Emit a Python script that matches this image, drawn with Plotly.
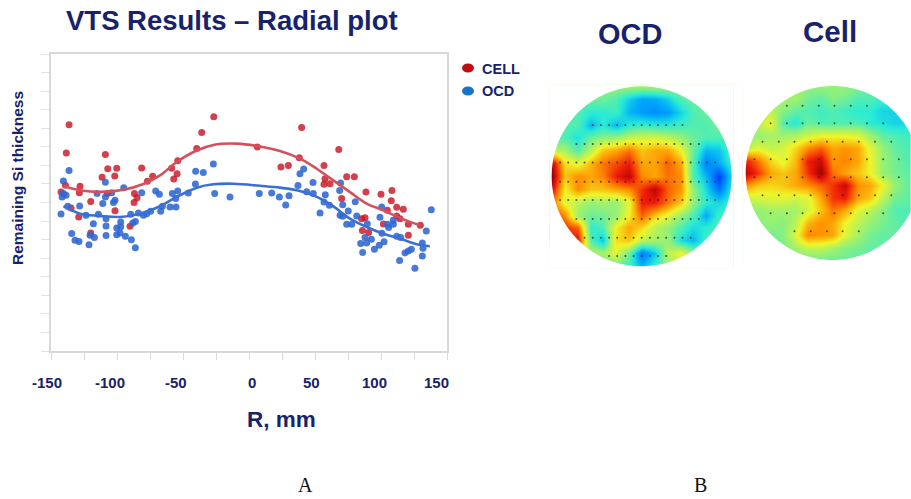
import numpy as np
import plotly.graph_objects as go

NAVY = "#18226a"
# Radial plot: R (mm) and remaining Si thickness (axis divisions)
cell_r = [-136.3,-138.4,-142.4,-139.1,-134.8,-129,-128,-128.5,-119.9,-119.9,-111.3,-108.8,-107,-100.2,-101.7,-107.3,-101.5,-90.1,-86.8,-84.8,-87.1,-81.3,-77,-73,-58.6,-54.5,-57,-54,-39.6,-35.8,-26.7,6.3,39.9,38.1,24.2,29.8,68,56.8,57.6,56.8,61.4,74,79.8,70.2,88.6,100,108.3,107.8,111.9,116.9,104.8,111.9,114.4,120.7,129.8,120.7,85.3,87.9,85.9,90.6,101.8]
cell_v = [12.19,10.66,8.57,8.93,7.71,7.22,8.87,8.53,8.05,6.36,9.36,10.59,9.82,9.84,9.43,8.48,7.55,6.72,8.48,8.26,8.0,9.86,9.14,9.41,9.84,9.55,9.27,10.25,10.91,11.77,12.62,10.99,12.04,10.41,9.91,10.0,10.86,10.0,9.28,8.98,9.01,9.39,9.39,8.21,8.56,8.44,8.64,8.1,7.74,7.63,7.58,7.27,7.13,6.83,6.77,6.23,7.13,7.18,6.49,6.38,6.84]
ocd_r = [-136.3,-140.6,-141.6,-138.6,-140.6,-142.4,-137.3,-134.3,-131.8,-128.8,-128.3,-123.5,-117.9,-121.2,-120.4,-117.1,-115.1,-114.1,-110.8,-108.8,-108.8,-104,-108.3,-108.3,-108.3,-101.5,-102.7,-94.9,-100.2,-100.2,-97.2,-97.2,-97.7,-93.7,-89.1,-86.1,-89.6,-88.1,-86.1,-83.8,-80,-81.3,-77.5,-74.5,-70.7,-67.9,-66.9,-65.6,-59.8,-55.3,-58.1,-55.5,-54,-46,-40.4,-40.6,-34.6,-27,-26,-14.4,7.8,17.2,23,27.8,30.3,37.1,38.6,41.4,43.7,48.5,48.7,53.8,57.8,56.8,60.9,69.4,68.7,71,69,75.2,71,74,77.8,80.5,81.6,89.6,99.2,100.5,87.9,92.7,84.6,89.1,86.1,95,98.7,102.3,100.7,104.8,105.8,109.3,109.3,111.9,114.9,114.1,118.2,120.7,123,125.7,131.3,131.3,131.8,134.3,138.1]
ocd_v = [9.73,9.16,8.3,8.39,8.48,7.38,7.8,6.33,5.97,5.9,7.81,7.31,6.86,5.72,6.24,6.11,8.48,7.37,7.94,9.09,8.3,8.53,7.13,6.74,6.22,8.12,8.0,8.8,6.63,6.26,6.95,6.69,6.36,6.18,6.0,5.56,7.37,6.9,6.97,7.44,7.31,8.53,7.4,7.53,8.62,8.44,7.53,7.8,7.76,7.76,8.48,8.21,8.62,8.51,9.68,9.0,9.62,10.07,8.48,8.3,8.48,8.51,8.3,7.87,8.37,8.92,9.55,9.8,8.58,9.08,8.48,7.43,8.42,8.03,7.85,9.05,8.64,7.88,7.31,7.54,7.26,6.83,6.83,8.04,7.27,6.86,7.2,7.76,6.11,6.02,5.79,5.82,5.3,5.48,5.7,5.88,6.34,6.83,6.65,6.83,7.04,6.18,6.11,4.87,5.28,5.39,5.48,4.46,5.12,5.82,5.54,6.47,7.61]
cell_fit_r = [-140.6,-128,-113,-95,-80,-67.4,-54.8,-39.6,-27,-9.3,6.3,23.5,38.6,51.3,63.9,76.5,89.1,101.8,114.4,129.5]
cell_fit_v = [8.87,8.66,8.57,8.69,9.0,9.46,10.18,10.8,11.1,11.17,11.04,10.77,10.36,9.82,9.19,8.56,7.94,7.58,7.17,6.77]
ocd_fit_r = [-140.6,-128,-113,-97.7,-82.5,-67.4,-54.8,-39.6,-27,-11.8,8.4,23.5,38.6,51.3,63.9,76.5,89.1,101.8,114.4,127,137]
ocd_fit_v = [7.8,7.4,7.28,7.22,7.4,7.8,8.3,8.8,8.98,9.01,8.9,8.8,8.62,8.3,7.79,7.13,6.68,6.32,6.06,5.75,5.64]

x_tick_labels = ["-150","-100","-50","0","50","100","150"]
x_label_px = [47,110,176,252,311,374,436]

# Wafer maps (rows top to bottom, 15 x 15 across the wafer diameter)
wafer_axis = [-150,-128.6,-107.1,-85.7,-64.3,-42.9,-21.4,0,21.4,42.9,64.3,85.7,107.1,128.6,150]
ocd_map = [
 [.50,.50,.50,.50,.50,.50,.52,.52,.52,.52,.50,.50,.50,.50,.50],
 [.45,.45,.45,.45,.45,.42,.33,.27,.28,.33,.42,.45,.45,.45,.45],
 [.42,.42,.42,.38,.38,.40,.30,.26,.24,.26,.34,.42,.45,.45,.45],
 [.42,.42,.42,.30,.38,.30,.38,.40,.38,.38,.40,.42,.42,.46,.46],
 [.42,.42,.36,.45,.48,.50,.55,.58,.58,.55,.50,.45,.42,.42,.44],
 [.55,.52,.42,.55,.68,.72,.78,.68,.72,.72,.62,.45,.30,.32,.42],
 [.95,.65,.60,.70,.78,.82,.88,.72,.72,.80,.72,.42,.22,.28,.40],
 [1.0,.68,.75,.72,.76,.88,.95,.75,.72,.78,.75,.42,.30,.12,.35],
 [.92,.62,.75,.68,.68,.72,.75,.85,.95,.80,.74,.50,.35,.20,.38],
 [.78,.60,.55,.50,.52,.50,.60,.88,.88,.78,.68,.50,.38,.34,.40],
 [.85,.75,.50,.45,.46,.50,.62,.80,.68,.60,.50,.42,.28,.40,.42],
 [.90,.85,.80,.38,.42,.62,.72,.66,.55,.50,.42,.35,.38,.42,.42],
 [.90,.90,.90,.42,.32,.65,.68,.55,.52,.50,.35,.30,.40,.42,.42],
 [.60,.60,.60,.55,.52,.60,.45,.20,.32,.55,.62,.50,.45,.45,.45],
 [.50,.50,.50,.50,.45,.45,.40,.30,.40,.50,.55,.50,.45,.45,.45],
]
cell_map = [
 [.50,.50,.50,.50,.50,.50,.50,.50,.50,.48,.46,.45,.45,.45,.45],
 [.52,.52,.52,.52,.52,.46,.44,.48,.46,.42,.42,.40,.40,.40,.40],
 [.55,.55,.55,.48,.44,.42,.40,.42,.40,.38,.38,.34,.34,.34,.34],
 [.55,.55,.62,.42,.37,.45,.42,.42,.42,.42,.38,.36,.34,.35,.35],
 [.50,.50,.52,.52,.54,.58,.62,.62,.62,.60,.52,.44,.42,.40,.40],
 [.55,.60,.56,.58,.66,.75,.80,.72,.74,.72,.60,.50,.44,.42,.42],
 [.88,.78,.66,.60,.70,.88,.93,.74,.76,.72,.62,.50,.46,.42,.42],
 [.95,.85,.72,.68,.72,.85,.98,.78,.72,.68,.62,.50,.46,.44,.44],
 [.75,.68,.66,.68,.72,.75,.80,.85,.93,.75,.72,.62,.50,.44,.44],
 [.58,.58,.60,.60,.58,.60,.72,.85,.88,.72,.68,.55,.46,.44,.44],
 [.50,.50,.52,.52,.52,.58,.68,.78,.72,.60,.55,.48,.42,.42,.42],
 [.48,.48,.50,.48,.55,.70,.75,.72,.62,.55,.50,.46,.44,.42,.42],
 [.46,.46,.46,.48,.60,.76,.74,.72,.60,.52,.46,.44,.44,.42,.42],
 [.45,.45,.45,.46,.52,.56,.56,.52,.48,.46,.44,.44,.44,.42,.42],
 [.45,.45,.45,.45,.45,.45,.45,.45,.45,.44,.44,.44,.44,.42,.42],
]
map_colors = [[0,"rgb(0,0,140)"],[.12,"rgb(0,60,255)"],[.28,"rgb(0,170,250)"],[.375,"rgb(40,235,215)"],
              [.48,"rgb(135,240,130)"],[.62,"rgb(240,245,40)"],[.74,"rgb(255,150,0)"],[.88,"rgb(238,25,10)"],[1,"rgb(140,0,0)"]]

# Measurement sites on the wafers (mm)
ocd_site_rows = [85.6,53.9,22.8,-8.9,-39.4,-71.1,-102.2,-132.8]
ocd_site_cols = [[-81.6,-68,-54.4,-40.8,-27.2,-13.6,0,13.6,27.2,40.8,54.4,68],
 [-108.8,-95.2,-81.6,-68,-54.4,-40.8,-27.2,-13.6,0,13.6,27.2,40.8,54.4,68,81.6,95.2],
 [-136,-122.4,-108.8,-95.2,-81.6,-68,-54.4,-40.8,-27.2,-13.6,0,13.6,27.2,40.8,54.4,68,81.6,95.2,108.8,122.4],
 [-136,-122.4,-108.8,-95.2,-81.6,-68,-54.4,-40.8,-27.2,-13.6,0,13.6,27.2,40.8,54.4,68,81.6,95.2,108.8,122.4],
 [-136,-122.4,-108.8,-95.2,-81.6,-68,-54.4,-40.8,-27.2,-13.6,0,13.6,27.2,40.8,54.4,68,81.6,95.2,108.8,122.4],
 [-108.8,-95.2,-81.6,-68,-54.4,-40.8,-27.2,-13.6,0,13.6,27.2,40.8,54.4,68,81.6,95.2],
 [-95.2,-81.6,-68,-54.4,-40.8,-27.2,-13.6,0,13.6,27.2,40.8,54.4,68,81.6],
 [-54.4,-40.8,-27.2,-13.6,0,13.6,27.2,40.8]]
cell_site_rows = [116,85.6,54,23.6,-7.5,-38.5,-69.5,-100.6]
cell_site_cols = [[-79,-52,-24,3,31,59],
 [-107,-79,-52,-24,3,31,59,87],
 [-121,-93,-66,-38,-10,17,45,73,101],
 [-135,-107,-79,-52,-24,3,31,59,87,114],
 [-135,-107,-79,-52,-24,3,31,59,87,114],
 [-121,-93,-66,-38,-10,17,45,73,101],
 [-107,-79,-52,-24,3,31,59,87],
 [-66,-38,-10,17,45]]

W, H = 911, 499
def px(x): return x / W
def py(y): return (H - y) / H

fig = go.Figure()
BLUE = "#3a6fd6"
fig.add_trace(go.Scatter(x=cell_r, y=cell_v, mode="markers", name="CELL", showlegend=False,
    marker=dict(color="#c8101e", size=7, opacity=.8)))
fig.add_trace(go.Scatter(x=ocd_r, y=ocd_v, mode="markers", name="OCD", showlegend=False,
    marker=dict(color="#2f66d2", size=7, opacity=.88)))
fig.add_trace(go.Scatter(x=cell_fit_r, y=cell_fit_v, mode="lines", showlegend=False,
    line=dict(color="#d4505c", width=2.6, shape="spline")))
fig.add_trace(go.Scatter(x=ocd_fit_r, y=ocd_fit_v, mode="lines", showlegend=False,
    line=dict(color=BLUE, width=2.6, shape="spline")))

def sites(rows, cols):
    xs, ys = [], []
    for r, c in zip(rows, cols):
        xs += c
        ys += [r] * len(c)
    return xs, ys

for i, (grid, rows, cols) in enumerate([(ocd_map, ocd_site_rows, ocd_site_cols),
                                        (cell_map, cell_site_rows, cell_site_cols)]):
    ax = str(i + 2)
    fig.add_trace(go.Heatmap(x=wafer_axis, y=wafer_axis, z=grid[::-1], colorscale=map_colors,
        zmin=0, zmax=1, zsmooth="best", showscale=False, xaxis="x" + ax, yaxis="y" + ax))
    xs, ys = sites(rows, cols)
    fig.add_trace(go.Scatter(x=xs, y=ys, mode="markers", showlegend=False, xaxis="x" + ax, yaxis="y" + ax,
        marker=dict(color="#222222", size=2, opacity=.75)))

theta = np.linspace(0, 2 * np.pi, 181)[:-1]
circle = " ".join(("M" if k == 0 else "L") + f" {150*np.cos(t):.2f} {150*np.sin(t):.2f}" for k, t in enumerate(theta))
mask = "M -170 -170 L 170 -170 L 170 170 L -170 170 Z " + circle + " Z"
shapes = [dict(type="path", path=mask, xref=f"x{a}", yref=f"y{a}", fillcolor="white",
               fillrule="evenodd", line=dict(width=0), layer="above") for a in (2, 3)]
for cy, col in [(68, "#c00a14"), (91, "#1474cc")]:
    shapes.append(dict(type="circle", xref="paper", yref="paper", fillcolor=col, line=dict(width=0),
                       x0=px(462), x1=px(474), y0=py(cy + 4.5), y1=py(cy - 4.5)))

ann = []
def text(x, y, s, size, color=NAVY, bold=True, family="Liberation Sans", angle=0, anchor="center"):
    ann.append(dict(x=px(x), y=py(y), xref="paper", yref="paper", showarrow=False, textangle=angle,
        text=f"<b>{s}</b>" if bold else s, font=dict(size=size, color=color, family=family),
        xanchor=anchor, yanchor="middle"))
for lab, lx in zip(x_tick_labels, x_label_px):
    text(lx, 382, lab, 15)
text(232, 20, "VTS Results – Radial plot", 27.5)
text(17, 178, "Remaining Si thickness", 15.5, angle=-90)
text(281, 419, "R, mm", 22.5)
text(630, 34, "OCD", 29)
text(830, 32, "Cell", 29.5)
text(480, 69, "CELL", 14.5, anchor="left")
text(480, 91, "OCD", 14.5, anchor="left")
text(305, 485, "A", 20, color="#111111", bold=False, family="Liberation Serif")
text(700, 485, "B", 20, color="#111111", bold=False, family="Liberation Serif")

hidden = dict(visible=False, showgrid=False, zeroline=False)
fig.update_layout(
    width=W, height=H, margin=dict(l=0, r=0, t=0, b=0), paper_bgcolor="white", plot_bgcolor="white",
    shapes=shapes, annotations=ann, hovermode=False, showlegend=False,
    xaxis=dict(domain=[px(51), px(447)], range=[-150, 150], tickmode="linear", tick0=-150, dtick=25,
               ticks="outside", ticklen=7, tickcolor="#d8d8d8", showticklabels=False, showgrid=False,
               zeroline=False, showline=True, linecolor="#d8d8d8", linewidth=2, mirror=True),
    yaxis=dict(domain=[py(351), py(54)], range=[0, 16], tickmode="linear", tick0=0, dtick=1,
               ticks="outside", ticklen=8, tickcolor="#e2e2e2", showticklabels=False, showgrid=False,
               zeroline=False, showline=True, linecolor="#d8d8d8", linewidth=2, mirror=True),
    xaxis2=dict(domain=[px(549.7), px(733.7)], range=[-153.3, 153.3], anchor="y2", **hidden),
    yaxis2=dict(domain=[py(268.3), py(84.3)], range=[-153.3, 153.3], anchor="x2", **hidden),
    xaxis3=dict(domain=[px(742.7), 1], range=[-155.2, 135], anchor="y3", **hidden),
    yaxis3=dict(domain=[py(263), py(83)], range=[-155.2, 155.2], anchor="x3", **hidden),
)
fig.write_html("out.html", config={"displayModeBar": False},
               post_script="document.body.style.margin='0';document.body.style.overflow='hidden';")
